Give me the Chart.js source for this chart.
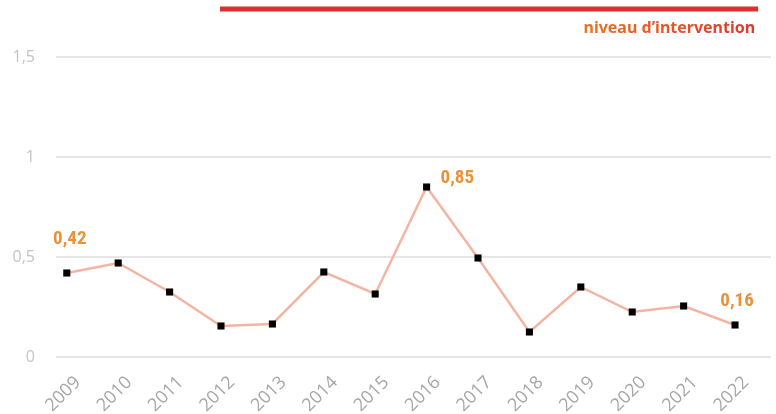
<!DOCTYPE html>
<html>
<head>
<meta charset="utf-8">
<script src="https://cdn.jsdelivr.net/npm/chart.js@4"></script>
<style>
html, body { margin: 0; padding: 0; background: #fff; }
#wrap { width: 776px; height: 414px; }
</style>
</head>
<body>
<div id="wrap"><canvas id="chart"></canvas></div>
<script>
const years = [2009, 2010, 2011, 2012, 2013, 2014, 2015, 2016, 2017, 2018, 2019, 2020, 2021, 2022];
const values = [0.42, 0.47, 0.325, 0.155, 0.165, 0.425, 0.315, 0.85, 0.495, 0.125, 0.35, 0.225, 0.255, 0.16];
const yTicks = [0, 0.5, 1, 1.5];
const interventionLevel = 1.74;
const interventionFrom = 2011.98;
const interventionTo = 2022.45;
const labelledYears = [2009, 2016, 2022];

const fmt = v => String(v).replace('.', ',');

// annotations: value labels + text under the red line
const labelsPlugin = {
  id: 'labels',
  afterDatasetsDraw(chart) {
    const c = chart.ctx;
    const meta = chart.getDatasetMeta(0);
    c.save();
    c.fillStyle = '#e8923a';
    c.font = 'bold 19px "Liberation Sans Narrow", "Roboto Condensed", sans-serif';
    c.textBaseline = 'middle';
    labelledYears.forEach(y => {
      const i = years.indexOf(y);
      const p = meta.data[i];
      let tx = p.x, ty = p.y;
      if (i === 0) { c.textAlign = 'center'; tx = p.x + 3; ty = p.y - 34; }
      else if (y === 2016) { c.textAlign = 'left'; tx = p.x + 14; ty = p.y - 9; }
      else { c.textAlign = 'center'; tx = p.x + 2; ty = p.y - 24; }
      c.fillText(fmt(values[i]), tx, ty);
    });
    const xs = chart.scales.x, ys = chart.scales.y;
    const right = xs.getPixelForValue(interventionTo) - 3;
    const top = ys.getPixelForValue(interventionLevel) + 19;
    c.font = 'bold 16px "Noto Sans", sans-serif';
    c.textAlign = 'right';
    const w = c.measureText('niveau d\u2019intervention').width;
    const g = c.createLinearGradient(right - w, 0, right, 0);
    g.addColorStop(0, '#ea7424');
    g.addColorStop(1, '#dd3a30');
    c.fillStyle = g;
    c.fillText('niveau d\u2019intervention', right, top);
    c.restore();
  }
};

new Chart(document.getElementById('chart'), {
  type: 'line',
  data: {
    datasets: [{
      data: years.map((y, i) => ({ x: y, y: values[i] })),
      borderColor: '#f4b4a2',
      borderWidth: 2.5,
      pointStyle: 'rect',
      pointRadius: 5,
      pointBackgroundColor: '#000',
      pointBorderColor: '#000',
      pointBorderWidth: 0,
      tension: 0
    }, {
      data: [{ x: interventionFrom, y: interventionLevel }, { x: interventionTo, y: interventionLevel }],
      borderColor: '#dc3030',
      borderWidth: 5,
      pointRadius: 0,
      clip: false
    }]
  },
  options: {
    responsive: true,
    maintainAspectRatio: false,
    animation: false,
    layout: { padding: { top: 7, right: 3, left: 0, bottom: 0 } },
    plugins: { legend: { display: false }, tooltip: { enabled: false } },
    scales: {
      x: {
        type: 'linear',
        min: 2008.79,
        max: 2022.7,
        afterBuildTicks: s => { s.ticks = years.map(v => ({ value: v })); },
        afterFit: s => { s.height = 57; s.paddingLeft = 0; s.paddingRight = 0; },
        grid: { display: false },
        border: { display: false },
        ticks: {
          autoSkip: false,
          minRotation: 45,
          maxRotation: 45,
          padding: 7,
          labelOffset: 11,
          color: '#a6a6a6',
          font: { family: '"Open Sans", sans-serif', size: 18 },
          callback: v => String(v)
        }
      },
      y: {
        min: 0,
        max: 1.75,
        afterBuildTicks: s => { s.ticks = yTicks.map(v => ({ value: v })); },
        afterFit: s => { s.width = 56; s.paddingTop = 0; s.paddingBottom = 0; },
        grid: { color: '#e6e6e6', lineWidth: 2, drawTicks: false },
        border: { display: false },
        ticks: {
          padding: 21,
          color: '#c4c4c4',
          font: { family: '"Open Sans", sans-serif', size: 16 },
          callback: v => fmt(v)
        }
      }
    }
  },
  plugins: [labelsPlugin]
});
</script>
</body>
</html>
